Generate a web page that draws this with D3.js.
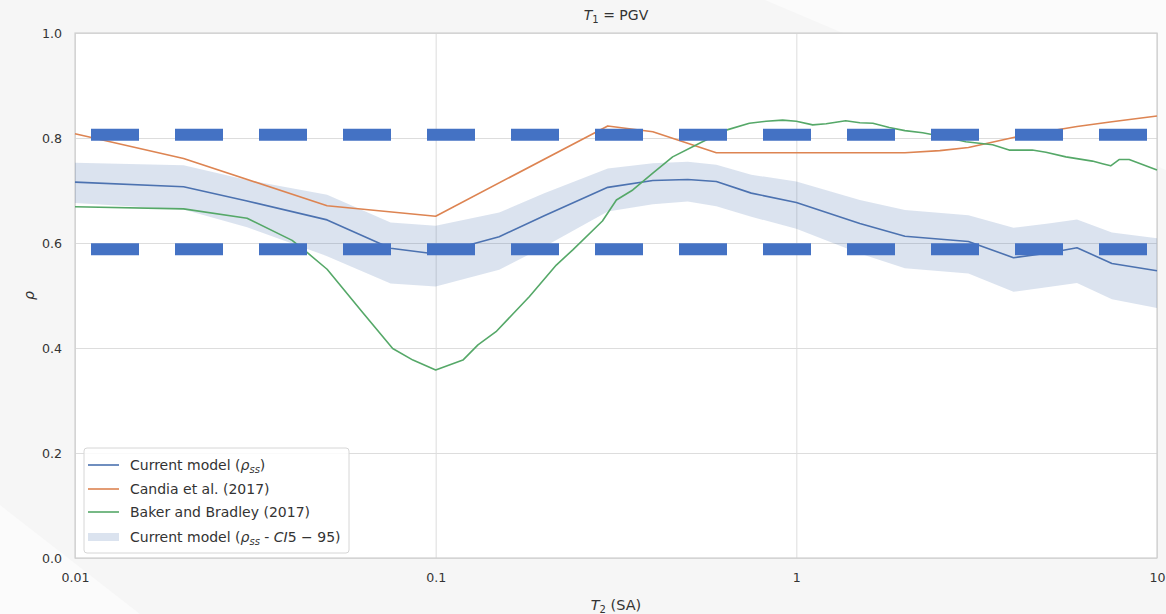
<!DOCTYPE html>
<meta charset="utf-8">
<style>
  body { margin: 0; background: #f6f6f6; }
  svg { display: block; font-family: "DejaVu Sans", sans-serif; }
  .tick text { fill: #333333; font-size: 12.6px; font-family: "DejaVu Sans", sans-serif; }
</style>
<body>
<svg></svg>
<script src="https://cdn.jsdelivr.net/npm/d3@7"></script>
<script>

  // DATA ---------------------------------------------------------------

  // current model, periods T2 (s)
  var periods = [0.01, 0.02, 0.03, 0.05, 0.075, 0.1, 0.15, 0.2, 0.3, 0.4, 0.5, 0.6, 0.75, 1, 1.5, 2, 3, 4, 5, 6, 7.5, 10];
  var rhoSS   = [0.716, 0.707, 0.680, 0.644, 0.590, 0.579, 0.612, 0.652, 0.706, 0.719, 0.721, 0.717, 0.695, 0.677, 0.637, 0.613, 0.603, 0.572, 0.581, 0.591, 0.561, 0.547];
  var ciUpper = [0.753, 0.748, 0.720, 0.692, 0.639, 0.633, 0.658, 0.695, 0.742, 0.752, 0.755, 0.749, 0.730, 0.717, 0.682, 0.663, 0.653, 0.629, 0.637, 0.645, 0.620, 0.609];
  var ciLower = [0.676, 0.664, 0.630, 0.575, 0.523, 0.517, 0.549, 0.593, 0.660, 0.674, 0.679, 0.670, 0.650, 0.627, 0.580, 0.552, 0.542, 0.507, 0.516, 0.524, 0.493, 0.476];

  // Candia et al. (2017)
  var candiaT   = [0.01, 0.02, 0.05, 0.1, 0.3, 0.4, 0.6, 1, 2, 2.5, 3, 4, 5, 6, 7.5, 10];
  var candiaRho = [0.808, 0.761, 0.671, 0.651, 0.823, 0.812, 0.772, 0.772, 0.772, 0.776, 0.782, 0.801, 0.813, 0.822, 0.831, 0.842];

  // Baker and Bradley (2017)
  var bakerT   = [0.01, 0.02, 0.03, 0.04, 0.044, 0.05, 0.063, 0.076, 0.0865, 0.1, 0.119, 0.131, 0.147, 0.182, 0.216, 0.24, 0.29, 0.317, 0.352, 0.4, 0.454, 0.539, 0.639, 0.741, 0.825, 0.916, 1, 1.11, 1.21, 1.37, 1.5, 1.63, 1.81, 2, 2.24, 2.54, 2.95, 3.5, 3.89, 4.51, 4.92, 5.59, 6.62, 7.06, 7.44, 7.85, 8.37, 8.92, 10];
  var bakerRho = [0.669, 0.665, 0.647, 0.605, 0.582, 0.550, 0.466, 0.399, 0.377, 0.358, 0.377, 0.406, 0.431, 0.498, 0.558, 0.587, 0.642, 0.682, 0.701, 0.733, 0.764, 0.790, 0.815, 0.828, 0.832, 0.834, 0.832, 0.825, 0.827, 0.833, 0.829, 0.828, 0.820, 0.814, 0.810, 0.803, 0.793, 0.787, 0.777, 0.777, 0.773, 0.764, 0.756, 0.751, 0.747, 0.759, 0.759, 0.752, 0.739];

  // thick dashed reference levels
  var refLevels = [0.806, 0.588];

  var xTicks = [0.01, 0.1, 1, 10];
  var xTickLabels = ["0.01", "0.1", "1", "10"];
  var yTicks = [0, 0.2, 0.4, 0.6, 0.8, 1.0];

  // SETUP --------------------------------------------------------------

  var width = 1166, height = 614;
  var margin = {left: 75, right: 9, top: 33, bottom: 56};

  var svg = d3.select("svg")
      .attr("width", width)
      .attr("height", height);

  // faint lighter wedges in the background
  svg.append("path")
     .attr("d", "M0,505 L0,614 L140,614 Z")
     .attr("fill", "#fbfbfb");
  svg.append("path")
     .attr("d", "M765,0 L1166,0 L1166,170 Z")
     .attr("fill", "#fbfbfb");

  var x = d3.scaleLog()
      .domain([0.01, 10])
      .range([margin.left, width - margin.right]);

  var y = d3.scaleLinear()
      .domain([0, 1])
      .range([height - margin.bottom, margin.top]);

  var x0 = x.range()[0], x1 = x.range()[1];
  var y0 = y.range()[0], y1 = y.range()[1];

  // plot background
  svg.append("rect")
     .attr("x", x0).attr("y", y1)
     .attr("width", x1 - x0).attr("height", y0 - y1)
     .attr("fill", "#ffffff");

  // GRID & AXES --------------------------------------------------------

  var xAxis = svg.append("g")
      .attr("transform", "translate(0," + y0 + ")")
      .call(d3.axisBottom(x)
              .tickValues(xTicks)
              .tickFormat(function(d, i){ return xTickLabels[i]; })
              .tickSize(-(y0 - y1))
              .tickPadding(15));

  var yAxis = svg.append("g")
      .attr("transform", "translate(" + x0 + ",0)")
      .call(d3.axisLeft(y)
              .tickValues(yTicks)
              .tickFormat(d3.format(".1f"))
              .tickSize(-(x1 - x0))
              .tickPadding(13));

  [xAxis, yAxis].forEach(function(a){
    a.select(".domain").remove();
    a.selectAll(".tick line").attr("stroke", "#dddddd").attr("stroke-width", 1);
  });

  // frame
  svg.append("rect")
     .attr("x", x0).attr("y", y1)
     .attr("width", x1 - x0).attr("height", y0 - y1)
     .attr("fill", "none")
     .attr("stroke", "#cfcfcf")
     .attr("stroke-width", 1.2);

  // SERIES -------------------------------------------------------------

  var band = d3.area()
      .x(function(d){ return x(d.t); })
      .y0(function(d){ return y(d.lo); })
      .y1(function(d){ return y(d.hi); });

  var bandData = periods.map(function(t, i){
    return {t: t, lo: ciLower[i], hi: ciUpper[i]};
  });

  svg.append("path")
     .datum(bandData)
     .attr("d", band)
     .attr("fill", "#4c72b0")
     .attr("fill-opacity", 0.2);

  var line = d3.line()
      .x(function(d){ return x(d[0]); })
      .y(function(d){ return y(d[1]); });

  function drawSeries(ts, vals, color)
  {
    svg.append("path")
       .datum(d3.zip(ts, vals))
       .attr("d", line)
       .attr("fill", "none")
       .attr("stroke", color)
       .attr("stroke-width", 1.6)
       .attr("stroke-linejoin", "round");
  }

  drawSeries(periods, rhoSS, "#4c72b0");
  drawSeries(candiaT, candiaRho, "#dd8452");
  drawSeries(bakerT, bakerRho, "#55a868");

  // thick dashed levels
  svg.selectAll(".ref")
     .data(refLevels)
     .enter()
     .append("line")
     .attr("class", "ref")
     .attr("x1", x0).attr("x2", x1)
     .attr("y1", function(d){ return y(d); })
     .attr("y2", function(d){ return y(d); })
     .attr("stroke", "#4472c4")
     .attr("stroke-width", 12)
     .attr("stroke-dasharray", "48 36")
     .attr("stroke-dashoffset", 68);

  // TEXT ---------------------------------------------------------------

  var title = svg.append("text")
      .attr("x", (x0 + x1) / 2).attr("y", 20)
      .attr("text-anchor", "middle")
      .attr("font-size", 14)
      .attr("fill", "#333333");
  title.append("tspan").attr("font-style", "italic").text("T");
  title.append("tspan").attr("font-size", 10).attr("dy", 3).text("1");
  title.append("tspan").attr("dy", -3).text(" = PGV");

  var xLabel = svg.append("text")
      .attr("x", (x0 + x1) / 2).attr("y", 610)
      .attr("text-anchor", "middle")
      .attr("font-size", 14.5)
      .attr("fill", "#333333");
  xLabel.append("tspan").attr("font-style", "italic").text("T");
  xLabel.append("tspan").attr("font-size", 10).attr("dy", 3).text("2");
  xLabel.append("tspan").attr("dy", -3).text(" (SA)");

  svg.append("text")
     .attr("transform", "translate(34," + ((y0 + y1) / 2) + ") rotate(-90)")
     .attr("text-anchor", "middle")
     .attr("font-size", 14)
     .attr("font-style", "italic")
     .attr("fill", "#333333")
     .text("ρ");

  // LEGEND -------------------------------------------------------------

  var legend = svg.append("g").attr("transform", "translate(84,448)");

  legend.append("rect")
        .attr("width", 265).attr("height", 105)
        .attr("rx", 3)
        .attr("fill", "#ffffff")
        .attr("fill-opacity", 0.85)
        .attr("stroke", "#d6d6d6");

  var entries = [
    {color: "#4c72b0", type: "line"},
    {color: "#dd8452", type: "line"},
    {color: "#55a868", type: "line"},
    {color: "#4c72b0", type: "patch"}
  ];
  var entryY = [17, 41, 64, 89];

  entries.forEach(function(e, i){
    if(e.type == "line")
      legend.append("line")
            .attr("x1", 4).attr("x2", 35)
            .attr("y1", entryY[i]).attr("y2", entryY[i])
            .attr("stroke", e.color)
            .attr("stroke-width", 1.6);
    else
      legend.append("rect")
            .attr("x", 4).attr("y", entryY[i] - 4)
            .attr("width", 31).attr("height", 8)
            .attr("fill", e.color)
            .attr("fill-opacity", 0.2);
  });

  function legendText(i)
  {
    return legend.append("text")
                 .attr("x", 46).attr("y", entryY[i] + 5)
                 .attr("font-size", 14)
                 .attr("fill", "#333333");
  }

  var t0 = legendText(0);
  t0.append("tspan").text("Current model (");
  t0.append("tspan").attr("font-style", "italic").text("ρ");
  t0.append("tspan").attr("font-style", "italic").attr("font-size", 10).attr("dy", 3).text("ss");
  t0.append("tspan").attr("dy", -3).text(")");

  legendText(1).text("Candia et al. (2017)");
  legendText(2).text("Baker and Bradley (2017)");

  var t3 = legendText(3);
  t3.append("tspan").text("Current model (");
  t3.append("tspan").attr("font-style", "italic").text("ρ");
  t3.append("tspan").attr("font-style", "italic").attr("font-size", 10).attr("dy", 3).text("ss");
  t3.append("tspan").attr("dy", -3).text(" - ");
  t3.append("tspan").attr("font-style", "italic").text("CI");
  t3.append("tspan").text("5 − 95)");

</script>
</body>
</html>
